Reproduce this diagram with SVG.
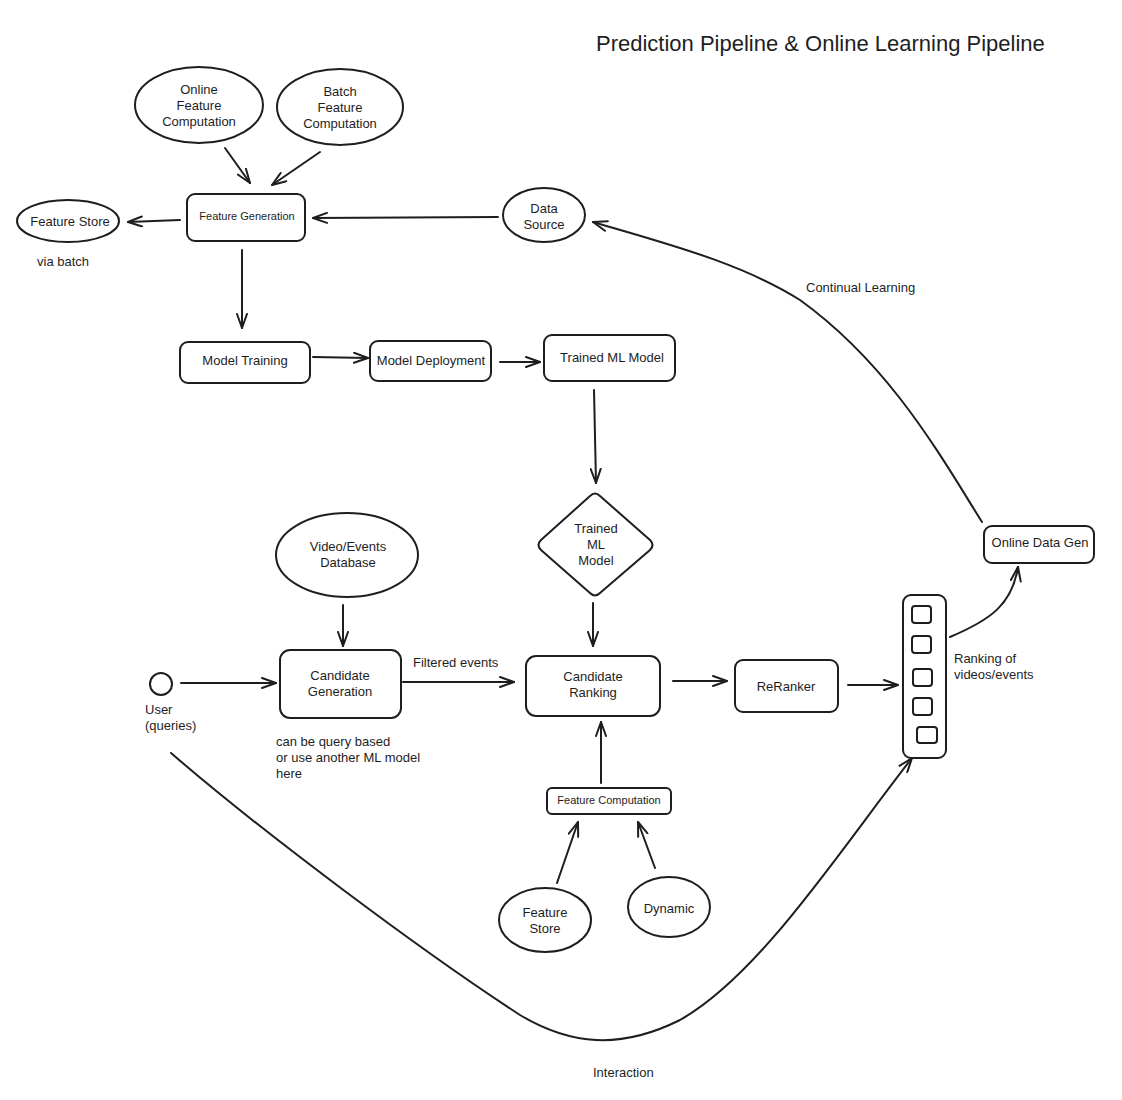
<svg xmlns="http://www.w3.org/2000/svg" width="1122" height="1100" viewBox="0 0 1122 1100">
  <style>
    .shape { fill: none; stroke: #1e1e1e; stroke-width: 2; stroke-linejoin: round; }
    .conn { fill: none; stroke: #1e1e1e; stroke-width: 2; stroke-linecap: round; }
    text { font-family: "Liberation Sans", "DejaVu Sans", sans-serif; fill: #1e1e1e; font-size: 13px; }
    .c { text-anchor: middle; dominant-baseline: central; }
    .small { font-size: 11px; }
    .title { font-size: 22px; }
  </style>
  <defs>
    <marker id="arr" viewBox="0 0 16 12" refX="15" refY="6" markerWidth="16" markerHeight="12" markerUnits="userSpaceOnUse" orient="auto">
      <path d="M1,1 L15,6 L1,11" fill="none" stroke="#1e1e1e" stroke-width="2" stroke-linecap="round" stroke-linejoin="round"/>
    </marker>
  </defs>
  <rect width="1122" height="1100" fill="#ffffff"/>

  <text class="title" x="596" y="51">Prediction Pipeline &amp; Online Learning Pipeline</text>

  <g id="connectors">
    <path class="conn" d="M225,148 L250,183" marker-end="url(#arr)"/>
    <path class="conn" d="M320,152 L272,185" marker-end="url(#arr)"/>
    <path class="conn" d="M180,220 L128,222" marker-end="url(#arr)"/>
    <path class="conn" d="M498,217 L313,218" marker-end="url(#arr)"/>
    <path class="conn" d="M242,250 L242,328" marker-end="url(#arr)"/>
    <path class="conn" d="M313,357 L368,358" marker-end="url(#arr)"/>
    <path class="conn" d="M500,362 L540,362" marker-end="url(#arr)"/>
    <path class="conn" d="M594,390 L596,483" marker-end="url(#arr)"/>
    <path class="conn" d="M593,603 L593,646" marker-end="url(#arr)"/>
    <path class="conn" d="M343,605 L343,646" marker-end="url(#arr)"/>
    <path class="conn" d="M181,683 L276,683" marker-end="url(#arr)"/>
    <path class="conn" d="M403,682 L514,682" marker-end="url(#arr)"/>
    <path class="conn" d="M673,681 L727,681" marker-end="url(#arr)"/>
    <path class="conn" d="M848,685 L898,685" marker-end="url(#arr)"/>
    <path class="conn" d="M601,783 L601,722" marker-end="url(#arr)"/>
    <path class="conn" d="M557,883 L578,822" marker-end="url(#arr)"/>
    <path class="conn" d="M655,868 L638,822" marker-end="url(#arr)"/>
    <path class="conn" d="M950,637 C990,620 1012,605 1018,567" marker-end="url(#arr)"/>
    <path class="conn" d="M982,522 C940,455 890,365 800,300 C740,262 660,242 593,222" marker-end="url(#arr)"/>
    <path class="conn" d="M171,753 C260,830 420,950 520,1015 C570,1045 620,1050 680,1020 C760,975 840,850 912,758" marker-end="url(#arr)"/>
  </g>

  <g id="online-feature-computation">
    <ellipse class="shape" cx="199" cy="105" rx="64" ry="38"/>
    <text class="c" x="199" y="89">Online</text>
    <text class="c" x="199" y="105">Feature</text>
    <text class="c" x="199" y="121">Computation</text>
  </g>
  <g id="batch-feature-computation">
    <ellipse class="shape" cx="340" cy="107" rx="63" ry="38"/>
    <text class="c" x="340" y="91">Batch</text>
    <text class="c" x="340" y="107">Feature</text>
    <text class="c" x="340" y="123">Computation</text>
  </g>
  <g id="feature-store-top">
    <ellipse class="shape" cx="68" cy="221" rx="51" ry="21"/>
    <text class="c" x="70" y="221">Feature Store</text>
  </g>
  <text x="37" y="266">via batch</text>
  <g id="feature-generation">
    <rect class="shape" x="187" y="194" width="118" height="47" rx="8"/>
    <text class="c small" x="247" y="216">Feature Generation</text>
  </g>
  <g id="data-source">
    <ellipse class="shape" cx="544" cy="215" rx="41" ry="27"/>
    <text class="c" x="544" y="208">Data</text>
    <text class="c" x="544" y="224">Source</text>
  </g>
  <g id="model-training">
    <rect class="shape" x="180" y="342" width="130" height="41" rx="8"/>
    <text class="c" x="245" y="360">Model Training</text>
  </g>
  <g id="model-deployment">
    <rect class="shape" x="370" y="341" width="121" height="40" rx="8"/>
    <text class="c" x="431" y="360">Model Deployment</text>
  </g>
  <g id="trained-ml-model-box">
    <rect class="shape" x="544" y="335" width="131" height="46" rx="8"/>
    <text class="c" x="612" y="357">Trained ML Model</text>
  </g>
  <g id="trained-ml-model-diamond">
    <path class="shape" d="M590,496 Q595,491 600,496 L650,540 Q655,545 650,550 L600,593 Q595,598 590,593 L541,550 Q536,545 541,540 Z"/>
    <text class="c" x="596" y="528">Trained</text>
    <text class="c" x="596" y="544">ML</text>
    <text class="c" x="596" y="560">Model</text>
  </g>
  <g id="video-events-database">
    <ellipse class="shape" cx="347" cy="555" rx="71" ry="42"/>
    <text class="c" x="348" y="546">Video/Events</text>
    <text class="c" x="348" y="562">Database</text>
  </g>
  <g id="user">
    <circle class="shape" cx="161" cy="684" r="11"/>
    <text x="145" y="714">User</text>
    <text x="145" y="730">(queries)</text>
  </g>
  <g id="candidate-generation">
    <rect class="shape" x="280" y="650" width="121" height="68" rx="10"/>
    <text class="c" x="340" y="675">Candidate</text>
    <text class="c" x="340" y="691">Generation</text>
  </g>
  <text x="413" y="667">Filtered events</text>
  <text x="276" y="746">can be query based</text>
  <text x="276" y="762">or use another ML model</text>
  <text x="276" y="778">here</text>
  <g id="candidate-ranking">
    <rect class="shape" x="526" y="656" width="134" height="60" rx="10"/>
    <text class="c" x="593" y="676">Candidate</text>
    <text class="c" x="593" y="692">Ranking</text>
  </g>
  <g id="reranker">
    <rect class="shape" x="735" y="660" width="103" height="52" rx="8"/>
    <text class="c" x="786" y="686">ReRanker</text>
  </g>
  <g id="ranking-list">
    <rect class="shape" x="903" y="595" width="43" height="163" rx="8"/>
    <rect class="shape" x="912" y="606" width="19" height="17" rx="3"/>
    <rect class="shape" x="912" y="636" width="19" height="17" rx="3"/>
    <rect class="shape" x="913" y="669" width="19" height="17" rx="3"/>
    <rect class="shape" x="913" y="698" width="19" height="17" rx="3"/>
    <rect class="shape" x="917" y="727" width="20" height="16" rx="3"/>
  </g>
  <text x="954" y="663">Ranking of</text>
  <text x="954" y="679">videos/events</text>
  <g id="online-data-gen">
    <rect class="shape" x="984" y="526" width="110" height="37" rx="8"/>
    <text class="c" x="1040" y="542">Online Data Gen</text>
  </g>
  <text x="806" y="292">Continual Learning</text>
  <g id="feature-computation">
    <rect class="shape" x="547" y="788" width="124" height="26" rx="5"/>
    <text class="c small" x="609" y="800">Feature Computation</text>
  </g>
  <g id="feature-store-bottom">
    <ellipse class="shape" cx="545" cy="920" rx="46" ry="32"/>
    <text class="c" x="545" y="912">Feature</text>
    <text class="c" x="545" y="928">Store</text>
  </g>
  <g id="dynamic">
    <ellipse class="shape" cx="669" cy="907" rx="41" ry="30"/>
    <text class="c" x="669" y="908">Dynamic</text>
  </g>
  <text x="593" y="1077">Interaction</text>
</svg>
